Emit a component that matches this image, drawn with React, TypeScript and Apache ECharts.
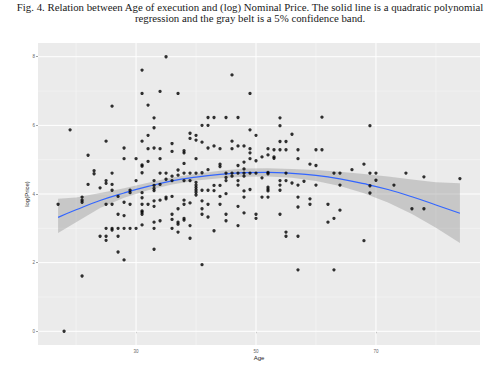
import React, { useEffect, useRef } from "react";
import * as echarts from "echarts";

const titleLines = [
  "Fig. 4. Relation between Age of execution and (log) Nominal Price. The solid line is a quadratic polynomial",
  "regression and the gray belt is a 5% confidence band.",
];

const xTicks = [30, 50, 70];
const yTicks = [0, 2, 4, 6, 8];
const xMinorGrid = [20, 40, 60, 80];
const yMinorGrid = [1, 3, 5, 7];
const xRange = [13.65, 87.35];
const yRange = [-0.4, 8.4];

// observed points: [age, log(price)]
const points: [number, number][] = [
  [17, 3.7], [18, 0.0], [19, 5.87],
  [21, 1.61], [21, 3.76], [21, 3.82], [21, 3.91],
  [22, 4.28], [22, 5.13],
  [23, 4.59], [23, 4.68],
  [24, 2.77], [24, 4.18],
  [25, 2.65], [25, 2.77], [25, 3.0], [25, 3.7], [25, 4.31], [25, 4.39], [25, 5.54],
  [26, 2.95], [26, 3.0], [26, 3.7], [26, 4.11], [26, 4.28], [26, 4.61], [26, 6.56],
  [27, 2.31], [27, 2.77], [27, 3.0], [27, 3.41], [27, 3.93],
  [28, 2.08], [28, 3.0], [28, 3.37], [28, 3.76], [28, 5.03], [28, 5.34],
  [29, 3.0], [29, 3.7], [29, 4.04], [29, 4.11],
  [30, 3.0], [30, 4.39], [30, 5.03],
  [31, 3.1], [31, 3.41], [31, 3.47], [31, 3.51], [31, 3.7], [31, 3.89], [31, 4.04], [31, 4.62], [31, 4.81], [31, 4.85], [31, 5.54], [31, 6.93], [31, 7.61],
  [32, 3.7], [32, 4.95], [32, 5.32], [32, 5.71], [32, 6.59],
  [33, 2.39], [33, 3.0], [33, 3.18], [33, 3.64], [33, 3.8], [33, 4.1], [33, 4.16], [33, 4.25], [33, 4.39], [33, 5.34], [33, 5.93], [33, 6.22],
  [34, 3.22], [34, 3.82], [34, 4.28], [34, 4.61], [34, 5.03], [34, 5.32], [34, 6.99],
  [35, 3.86], [35, 3.91], [35, 4.43], [35, 4.61], [35, 8.0],
  [36, 3.0], [36, 3.26], [36, 3.41], [36, 3.93], [36, 4.39], [36, 4.52], [36, 5.24], [36, 5.47],
  [37, 2.89], [37, 3.12], [37, 3.18], [37, 3.57], [37, 4.55], [37, 4.7], [37, 6.93],
  [38, 3.24], [38, 3.29], [38, 3.7], [38, 3.82], [38, 4.39], [38, 4.61], [38, 4.89], [38, 5.2], [38, 5.26],
  [39, 2.71], [39, 3.08], [39, 3.74], [39, 4.39], [39, 4.61], [39, 5.62], [39, 5.77],
  [40, 3.97], [40, 4.05], [40, 4.12], [40, 4.19], [40, 4.26], [40, 4.34], [40, 4.61], [40, 5.03], [40, 5.57], [40, 5.71],
  [41, 1.94], [41, 3.41], [41, 3.57], [41, 3.8], [41, 4.11], [41, 4.62], [41, 5.51], [41, 6.0],
  [42, 3.33], [42, 3.7], [42, 4.11], [42, 4.71], [42, 5.34], [42, 6.0], [42, 6.23],
  [43, 2.93], [43, 4.1], [43, 4.25], [43, 5.4], [43, 6.23],
  [44, 3.7], [44, 3.93], [44, 4.25], [44, 4.8], [44, 4.87], [44, 5.32],
  [45, 3.22], [45, 3.41], [45, 4.01], [45, 4.39], [45, 4.48], [45, 4.61], [45, 6.23],
  [46, 4.52], [46, 4.61], [46, 5.32], [46, 5.54], [46, 7.47],
  [47, 3.08], [47, 3.64], [47, 4.26], [47, 4.39], [47, 4.61], [47, 4.83], [47, 5.4], [47, 6.23],
  [48, 3.45], [48, 3.91], [48, 4.09], [48, 4.52], [48, 4.61], [48, 4.73], [48, 4.93], [48, 5.4],
  [49, 4.13], [49, 4.61], [49, 5.03], [49, 5.2], [49, 5.32], [49, 5.87], [49, 6.93],
  [50, 3.29], [50, 3.41], [50, 4.61], [50, 4.97], [50, 5.71],
  [51, 3.91], [51, 4.47], [51, 5.08],
  [52, 3.91], [52, 4.09], [52, 4.14], [52, 4.2], [52, 4.59], [52, 4.63], [52, 5.14], [52, 5.32],
  [53, 5.04], [53, 5.08], [53, 5.29],
  [54, 3.41], [54, 4.11], [54, 4.26], [54, 4.39], [54, 5.29], [54, 5.53], [54, 5.99], [54, 6.22],
  [55, 2.77], [55, 2.89], [55, 4.39], [55, 4.61], [55, 5.29], [55, 5.53],
  [56, 4.32], [56, 5.74],
  [57, 1.79], [57, 2.77], [57, 3.62], [57, 3.91], [57, 4.26], [57, 5.03], [57, 5.29],
  [58, 4.37],
  [59, 3.7], [59, 3.86], [59, 4.87],
  [60, 4.26], [60, 4.83], [60, 5.29],
  [61, 5.29], [61, 6.24],
  [62, 3.18], [62, 3.7],
  [63, 1.79], [63, 3.29], [63, 4.61],
  [64, 3.53], [64, 4.26], [64, 4.61],
  [66, 4.71],
  [68, 2.64], [68, 4.87],
  [69, 4.03], [69, 4.24], [69, 4.61], [69, 5.99],
  [70, 4.4], [70, 4.61],
  [73, 4.26],
  [75, 4.61],
  [76, 3.57],
  [78, 3.57], [78, 4.5],
  [84, 4.45],
];

// fitted quadratic curve and its confidence band
const fitAges = [17, 20, 24, 28, 32, 36, 40, 44, 48, 52, 56, 60, 64, 68, 72, 76, 80, 84];
const fitValues = [3.32, 3.54, 3.81, 4.03, 4.22, 4.38, 4.49, 4.57, 4.62, 4.63, 4.6, 4.54, 4.44, 4.3, 4.13, 3.92, 3.68, 3.44];
const bandLow = [2.86, 3.18, 3.59, 3.89, 4.11, 4.28, 4.39, 4.46, 4.5, 4.51, 4.47, 4.38, 4.23, 4.02, 3.75, 3.42, 3.02, 2.57];
const bandHigh = [3.86, 3.9, 4.03, 4.17, 4.33, 4.48, 4.59, 4.68, 4.74, 4.75, 4.73, 4.7, 4.65, 4.58, 4.51, 4.42, 4.34, 4.31];

function gridSegments(xs: number[], ys: number[]) {
  const out: any[] = [];
  xs.forEach((v) => {
    out.push([v, yRange[0]], [v, yRange[1]], ["-", "-"]);
  });
  ys.forEach((v) => {
    out.push([xRange[0], v], [xRange[1], v], ["-", "-"]);
  });
  return out;
}

export default function App() {
  const ref = useRef<HTMLDivElement>(null);
  useEffect(() => {
    if (!ref.current) return;
    const chart = echarts.init(ref.current, null, { renderer: "svg" });
    const bandData = fitAges.map((a, i) => [a, bandLow[i], bandHigh[i]]);
    const tickLabel = {
      fontSize: 4.5,
      color: "#666",
      fontFamily: "Liberation Sans",
    };
    chart.setOption({
      animation: false,
      title: titleLines.map((t, i) => ({
        text: t,
        left: "center",
        top: 1 + i * 11.5,
        padding: 0,
        textStyle: {
          fontFamily: "Liberation Serif",
          fontSize: 10.8,
          fontWeight: "normal",
          color: "#1a1a1a",
        },
      })),
      grid: {
        left: 38,
        right: 20,
        top: 43,
        bottom: 19,
        show: true,
        backgroundColor: "#EBEBEB",
        borderWidth: 0,
      },
      xAxis: {
        type: "value",
        min: xRange[0],
        max: xRange[1],
        name: "Age",
        nameLocation: "middle",
        nameGap: 10,
        nameMoveOverlap: false,
        nameTextStyle: { fontSize: 6, color: "#222", fontFamily: "Liberation Sans" },
        axisLine: { show: false },
        splitLine: { show: false },
        axisTick: { show: true, customValues: xTicks, length: 2, lineStyle: { color: "#444", width: 0.5 } },
        axisLabel: { ...tickLabel, margin: 4, customValues: xTicks },
      },
      yAxis: {
        type: "value",
        min: yRange[0],
        max: yRange[1],
        name: "log(Price)",
        nameLocation: "middle",
        nameGap: 8,
        nameMoveOverlap: false,
        nameTextStyle: { fontSize: 6, color: "#222", fontFamily: "Liberation Sans" },
        axisLine: { show: false },
        splitLine: { show: false },
        axisTick: { show: true, customValues: yTicks, length: 2, lineStyle: { color: "#444", width: 0.5 } },
        axisLabel: { ...tickLabel, margin: 3, customValues: yTicks },
      },
      series: [
        {
          type: "line",
          z: 1,
          silent: true,
          data: gridSegments(xMinorGrid, yMinorGrid),
          showSymbol: false,
          connectNulls: false,
          lineStyle: { color: "#F6F6F6", width: 0.6 },
        },
        {
          type: "line",
          z: 1,
          silent: true,
          data: gridSegments(xTicks, yTicks),
          showSymbol: false,
          connectNulls: false,
          lineStyle: { color: "#FFFFFF", width: 1 },
        },
        {
          type: "custom",
          z: 2,
          silent: true,
          data: bandData,
          encode: { x: 0, y: [1, 2] },
          renderItem: (params: any, api: any) => {
            if (params.dataIndex !== 0) return null;
            const upper = fitAges.map((a, i) => api.coord([a, bandHigh[i]]));
            const lower = fitAges.map((a, i) => api.coord([a, bandLow[i]])).reverse();
            return {
              type: "polygon",
              shape: { points: upper.concat(lower) },
              style: { fill: "rgba(150,150,150,0.42)", stroke: "none" },
            };
          },
        },
        {
          type: "line",
          z: 3,
          data: fitAges.map((a, i) => [a, fitValues[i]]),
          smooth: true,
          showSymbol: false,
          lineStyle: { color: "#3366FF", width: 1.2 },
        },
        {
          type: "scatter",
          z: 4,
          data: points,
          symbolSize: 3.3,
          itemStyle: { color: "#000" },
        },
      ],
    });
    return () => chart.dispose();
  }, []);
  return (
    <div
      ref={ref}
      style={{ position: "fixed", left: 0, top: 0, width: 500, height: 366, background: "#fff" }}
    />
  );
}
